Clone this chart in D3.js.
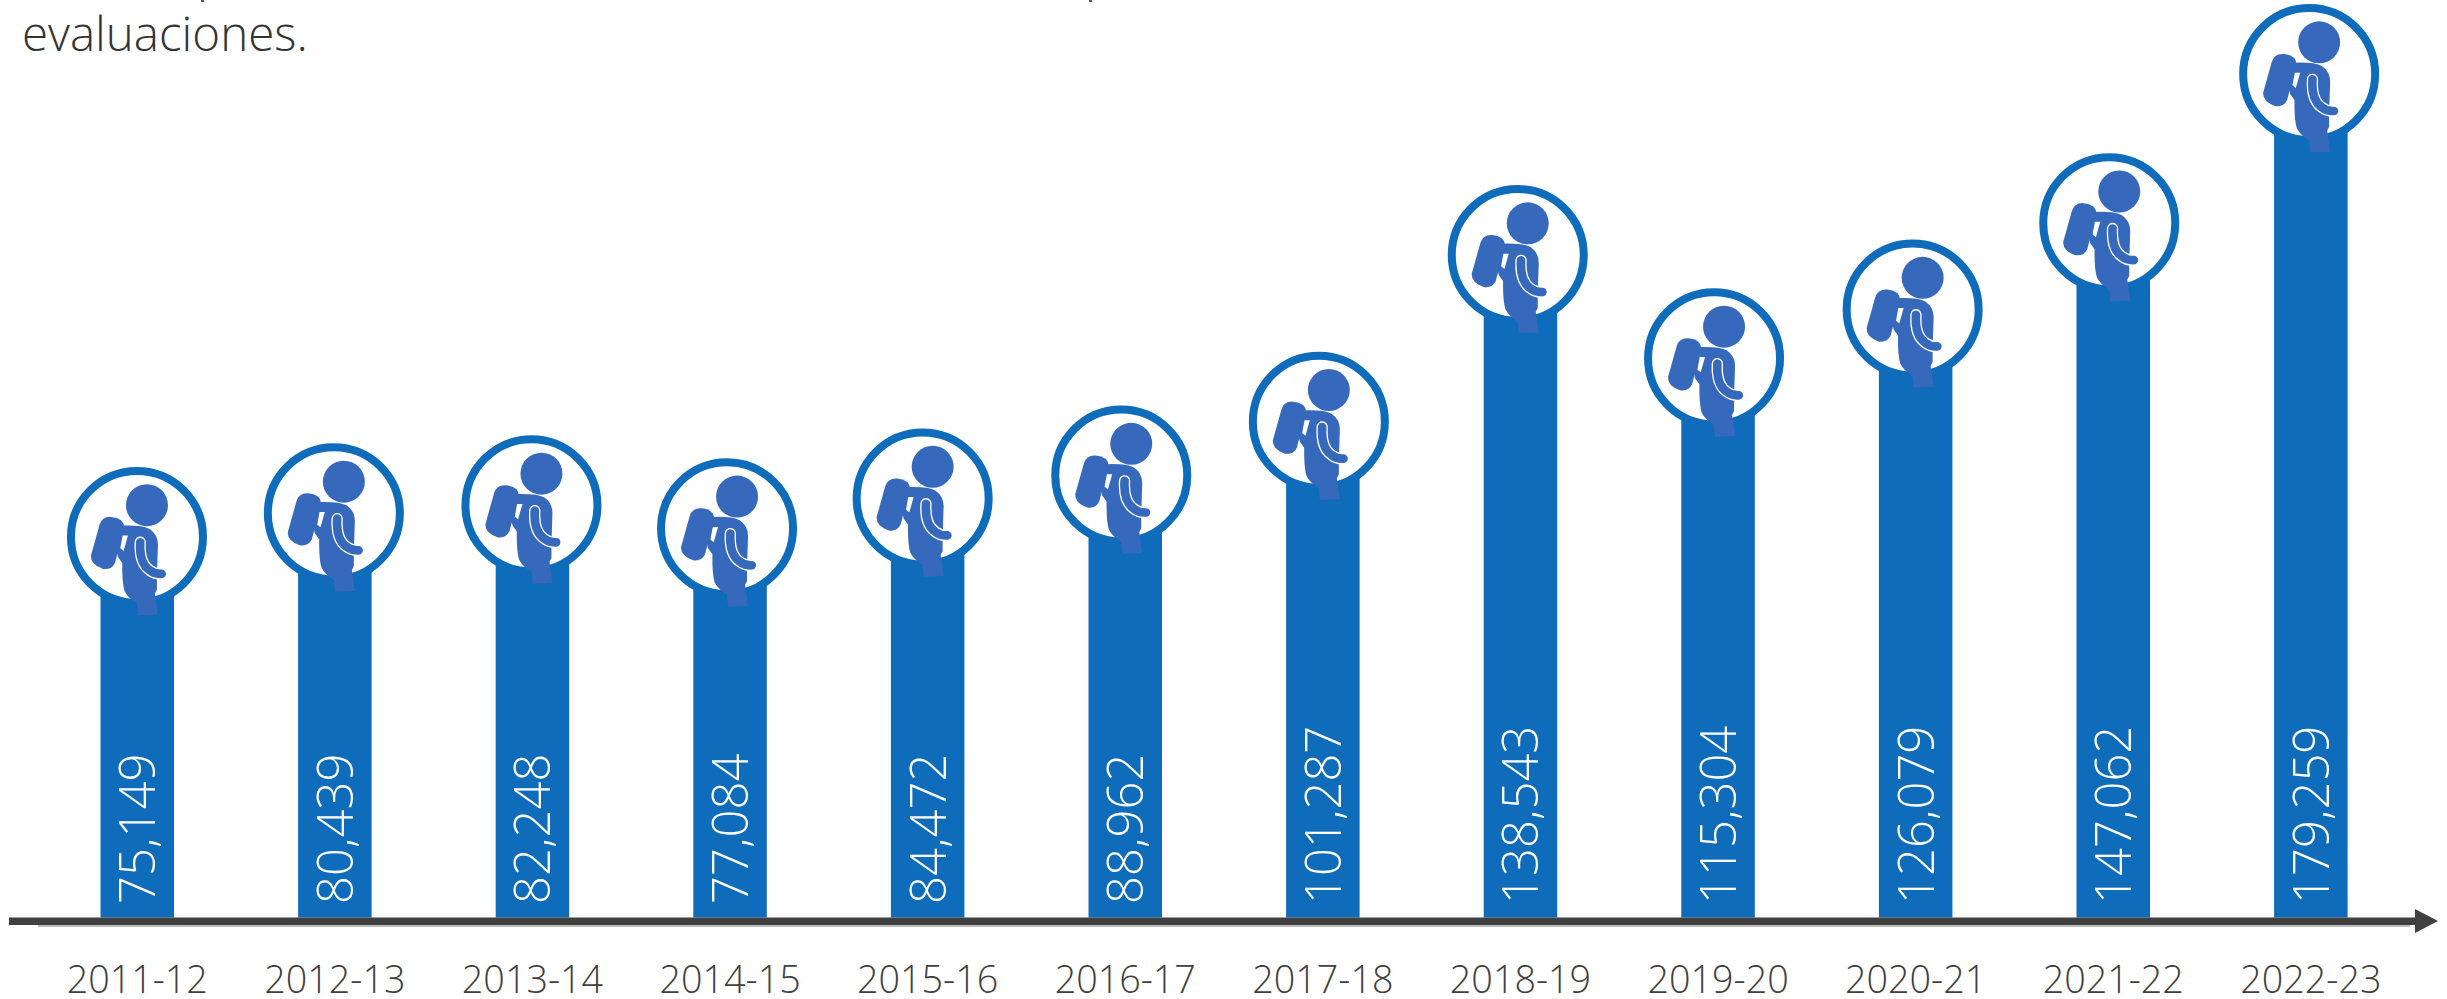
<!DOCTYPE html>
<html lang="es">
<head>
<meta charset="utf-8">
<title>Evaluaciones</title>
<script src="https://cdn.jsdelivr.net/npm/d3@7"></script>
<style>
    html, body { margin: 0; padding: 0; background: #fff; }
    svg { display: block; }
    text { font-family: "Open Sans", "Noto Sans", sans-serif; font-weight: 300; }
</style>
</head>
<body>
<div id="chart"></div>
<script>
const years = ["2011-12", "2012-13", "2013-14", "2014-15", "2015-16", "2016-17",
    "2017-18", "2018-19", "2019-20", "2020-21", "2021-22", "2022-23"];
const totals = [75149, 80439, 82248, 77084, 84472, 88962,
    101287, 138543, 115304, 126079, 147062, 179259];
const captionLine = "evaluaciones.";

// the icons were placed by hand in the original, so they sit a little off the bars
const iconShiftX = [-0.3, -1, -1, -3, -5, -4, -4, -2.7, -4, -3, -4, -1.7];
const iconShiftY = [0, 0, 0, 0, 3, 0, 1, 0, 0, -1, 6, 0];

const width = 2447, height = 999;
const baseY = 917.5;
const barBlue = "#0f6cba", iconBlue = "#3669bb", axisGrey = "#404040";

const svg = d3.select("#chart").append("svg")
    .attr("width", width)
    .attr("height", height);

const x = d3.scaleBand()
    .domain(years)
    .range([100.5, 2347.6])
    .paddingInner(0.628);

// bars don't start at zero on the baseline, the icons sit on this scale
const y = d3.scaleLinear()
    .domain([0, d3.max(totals)])
    .range([871, 74]);

const icon = svg.append("defs").append("g")
    .attr("id", "walker")
    .attr("transform", "scale(0.3333) translate(-262,-262)");

icon.append("circle").attr("cx", 292).attr("cy", 167).attr("r", 63).attr("fill", iconBlue);
icon.append("path")
    .attr("d", "M150,225 Q158,200 185,202 Q222,205 224,232 L196,340 Q185,362 160,358 Q122,345 124,318 Z")
    .attr("fill", iconBlue);
icon.append("path")
    .attr("d", "M215,228 Q280,226 300,238 Q325,255 325,285 L322,375 L322,420 L316,432 L325,495 L265,497 L262,462 Q235,445 225,425 Q217,400 218,340 L205,322 L200,300 Z")
    .attr("fill", iconBlue);
icon.append("path")
    .attr("d", "M219,258 L235,258 L222,304 L212,296 Z")
    .attr("fill", "#fff");
icon.append("path")
    .attr("d", "M272,278 Q268,340 300,362 Q315,374 336,373")
    .attr("fill", "none")
    .attr("stroke", "#fff")
    .attr("stroke-width", 34)
    .attr("stroke-linecap", "round");
icon.append("path")
    .attr("d", "M272,278 Q268,340 300,362 Q315,374 336,373")
    .attr("fill", "none")
    .attr("stroke", iconBlue)
    .attr("stroke-width", 26)
    .attr("stroke-linecap", "round");

const rows = years.map((year, i) => ({
    year,
    total: totals[i],
    cx: x(year) + x.bandwidth() / 2 + iconShiftX[i],
    cy: y(totals[i]) + iconShiftY[i]
}));

svg.selectAll("rect.bar")
    .data(rows)
    .enter().append("rect")
    .attr("class", "bar")
    .attr("x", d => x(d.year))
    .attr("y", d => y(d.total))
    .attr("width", x.bandwidth())
    .attr("height", d => baseY - y(d.total))
    .attr("fill", barBlue);

svg.selectAll("circle.ring")
    .data(rows)
    .enter().append("circle")
    .attr("class", "ring")
    .attr("cx", d => d.cx)
    .attr("cy", d => d.cy)
    .attr("r", 66)
    .attr("fill", "#fff")
    .attr("stroke", barBlue)
    .attr("stroke-width", 8);

svg.selectAll("use.walker")
    .data(rows)
    .enter().append("use")
    .attr("class", "walker")
    .attr("href", "#walker")
    .attr("transform", d => `translate(${d.cx},${d.cy})`);

// values inside the bars, reading upwards
svg.selectAll("text.total")
    .data(rows)
    .enter().append("text")
    .attr("class", "total")
    .attr("transform", d => `translate(${x(d.year) + x.bandwidth() / 2 + 18},904) rotate(-90)`)
    .attr("font-size", 49)
    .attr("fill", "#fff")
    .text(d => d3.format(",")(d.total));

// baseline: soft shadow, bar, arrow head
svg.append("rect")
    .attr("x", 38).attr("y", 924)
    .attr("width", 2372).attr("height", 3)
    .attr("fill", "#bdbdbd");
svg.append("path")
    .attr("d", "M9,917.5 H2415 V909 L2438,921 L2415,933 V925 H9 Z")
    .attr("fill", axisGrey);

const axis = svg.append("g")
    .attr("transform", "translate(0,958)")
    .call(d3.axisBottom(x).tickSize(0).tickPadding(0));
axis.select(".domain").remove();
axis.selectAll("text")
    .attr("y", 35)
    .attr("dy", 0)
    .attr("font-size", 37.7)
    .attr("font-family", null)
    .attr("fill", axisGrey);

svg.append("text")
    .attr("x", 22)
    .attr("y", 51)
    .attr("font-size", 47.5)
    .attr("fill", "#333")
    .text(captionLine);

// descender stubs left over from the cropped line above
svg.selectAll("rect.stub")
    .data([201, 1089])
    .enter().append("rect")
    .attr("class", "stub")
    .attr("x", d => d)
    .attr("y", 0)
    .attr("width", 3)
    .attr("height", 2)
    .attr("fill", "#555");
</script>
</body>
</html>
